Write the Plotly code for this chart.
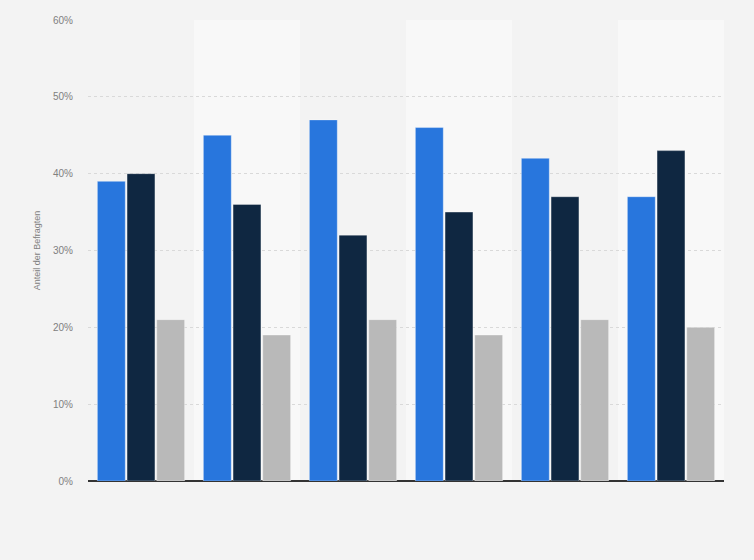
import plotly.graph_objects as go

# data
categories = ["1", "2", "3", "4", "5", "6"]
series_names = ["Antwort 1", "Antwort 2", "Antwort 3"]
values_a = [39, 45, 47, 46, 42, 37]
values_b = [40, 36, 32, 35, 37, 43]
values_c = [21, 19, 21, 19, 21, 20]
tick_vals = [0, 10, 20, 30, 40, 50, 60]
tick_text = ["0%", "10%", "20%", "30%", "40%", "50%", "60%"]

colors = ["#2876dd", "#0f2741", "#b9b9b9"]

fig = go.Figure()
for name, vals, col in zip(series_names, [values_a, values_b, values_c], colors):
    fig.add_trace(go.Bar(x=categories, y=vals, name=name,
                         marker=dict(color=col, line=dict(color="rgba(255,255,255,0.35)", width=1))))

# alternating background bands
for i in range(len(categories)):
    if i % 2 == 1:
        fig.add_shape(type="rect", xref="x", yref="paper", x0=i - 0.5, x1=i + 0.5, y0=0, y1=1,
                      fillcolor="#f8f8f8", line_width=0, layer="below")

fig.update_layout(
    width=754, height=560,
    margin=dict(l=88, r=30, t=20, b=79),
    paper_bgcolor="#f3f3f3", plot_bgcolor="#f3f3f3",
    barmode="group", bargap=0.16, bargroupgap=0.06,
    showlegend=False,
    font=dict(family="Arial, Liberation Sans, sans-serif", size=10, color="#666666"),
)
fig.update_xaxes(showticklabels=False, showgrid=False, range=[-0.5, 5.5],
                 showline=False, ticks="")
fig.update_yaxes(range=[0, 60], tickvals=tick_vals, ticktext=tick_text,
                 showgrid=True, gridcolor="#d9d9d9", griddash="dot", gridwidth=1,
                 zeroline=True, zerolinecolor="#333333", zerolinewidth=1.5,
                 tickfont=dict(size=10, color="#808080"), ticklabelstandoff=14,
                 title=dict(text="Anteil der Befragten", font=dict(size=9, color="#808080"), standoff=10))

# drop the page margin so the chart sits at the window corner
fig.write_html("out.html", config={"displayModeBar": False},
               post_script="document.body.style.margin='0';document.body.style.background='#f3f3f3';")
